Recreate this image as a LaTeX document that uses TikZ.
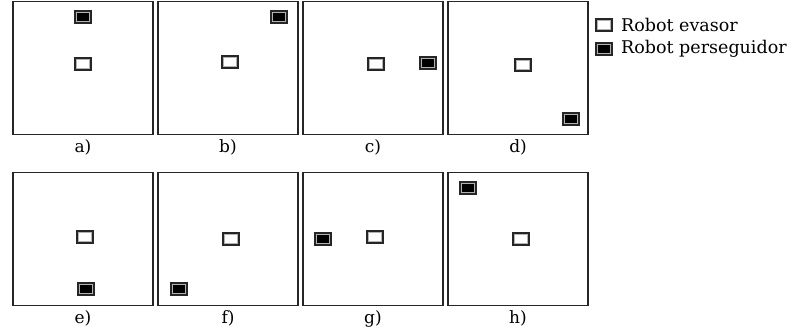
\documentclass[tikz,border=0pt]{standalone}
\usepackage{fontspec}
\setmainfont{DejaVu Serif}
\usetikzlibrary{positioning}

\tikzset{
    panel/.style={draw=black!85,line width=1.3pt,minimum width=140pt,minimum height=133pt,inner sep=0pt},
    robot/.style={draw=black!85,line width=1.2pt,minimum width=16pt,minimum height=12pt,inner sep=0pt,
        path picture={\draw[gray!60,line width=4pt] (path picture bounding box.south west) rectangle (path picture bounding box.north east);}},
    evasor/.style={robot,fill=white},
    perseguidor/.style={robot,fill=black},
    lbl/.style={font=\fontsize{17}{18}\selectfont,inner sep=1pt}
}

\begin{document}
\begin{tikzpicture}[x=1pt,y=-1pt]
\useasboundingbox (0,0) rectangle (792,335);

\foreach \n/\x/\y in {a/83/68,b/228/68,c/373/68,d/518/68,e/83/239,f/228/239,g/373/239,h/518/239}{
    \node[panel] (panel\n) at (\x,\y) {};
    \node[lbl,below=3pt of panel\n] (lab\n) {\n)};
}

\node[evasor] (eva) at (83,64) {};
\node[perseguidor] (pera) at (83,17) {};
\node[evasor] (evb) at (230,62) {};
\node[perseguidor] (perb) at (279,17) {};
\node[evasor] (evc) at (376,64) {};
\node[perseguidor] (perc) at (428,63) {};
\node[evasor] (evd) at (523,65) {};
\node[perseguidor] (perd) at (571,119) {};
\node[evasor] (eve) at (85,237) {};
\node[perseguidor] (pere) at (86,289) {};
\node[evasor] (evf) at (231,239) {};
\node[perseguidor] (perf) at (179,289) {};
\node[evasor] (evg) at (375,237) {};
\node[perseguidor] (perg) at (323,239) {};
\node[evasor] (evh) at (521,239) {};
\node[perseguidor] (perh) at (468,188) {};

% leyenda
\node[evasor] (legev) at (604,25) {};
\node[anchor=west,font=\fontsize{17.5}{19}\selectfont,inner sep=0pt] (txtev) at (621,25) {Robot evasor};
\node[perseguidor] (legper) at (604,49) {};
\node[anchor=west,font=\fontsize{17.5}{19}\selectfont,inner sep=0pt] (txtper) at (621,49) {Robot perseguidor};
\end{tikzpicture}
\end{document}
